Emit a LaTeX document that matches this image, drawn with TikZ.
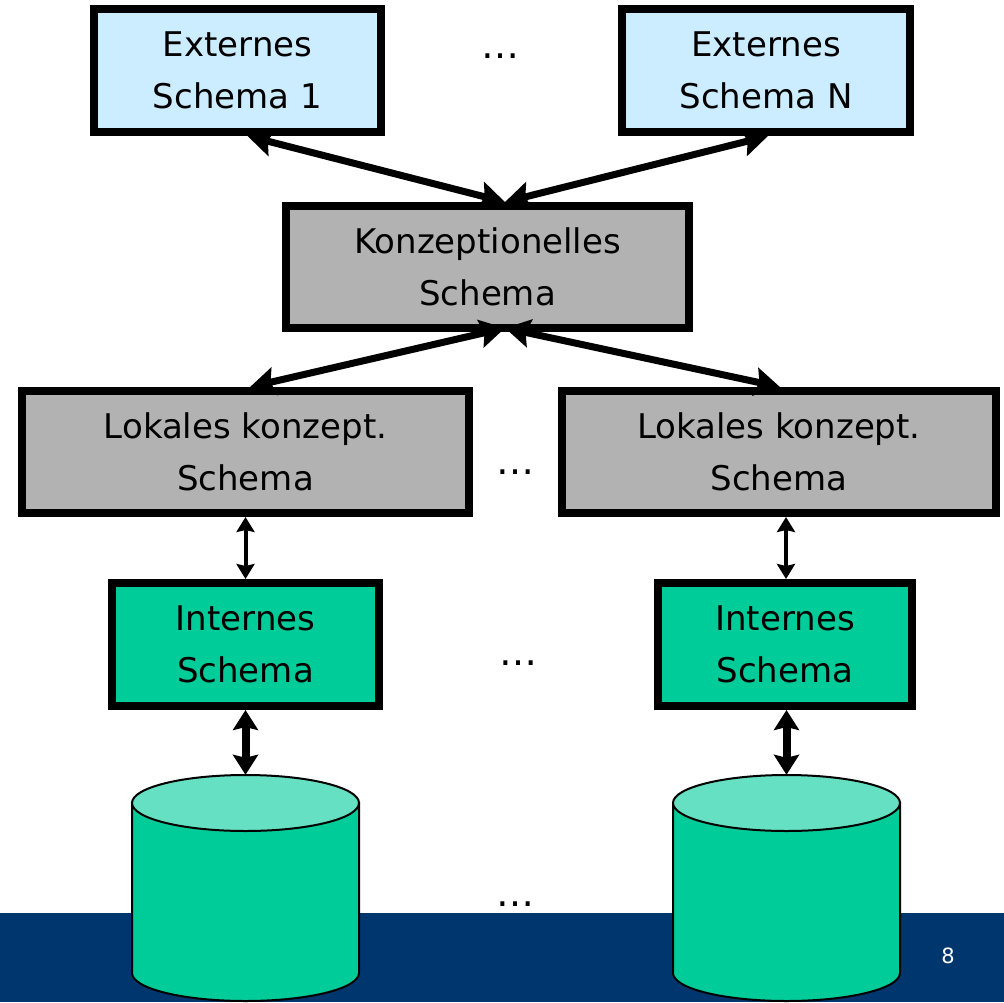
\documentclass[tikz,border=0pt]{standalone}
\usepackage{fontspec}
\setmainfont{DejaVu Sans}
\usetikzlibrary{arrows.meta}
\definecolor{extblue}{HTML}{CCECFF}
\definecolor{konzgray}{HTML}{B2B2B2}
\definecolor{intgreen}{HTML}{00CC99}
\definecolor{dbtop}{HTML}{66E0C2}
\definecolor{barblue}{HTML}{00366E}
\begin{document}
\begin{tikzpicture}[x=1pt,y=-1pt,
  schemabox/.style={draw=black, line width=8pt, inner sep=0pt, align=center,
    font=\fontsize{34}{52}\selectfont},
  bigarr/.style={line width=7pt,
    {Stealth[length=25pt,width=28pt,inset=4pt]}-{Stealth[length=25pt,width=28pt,inset=4pt]}},
  thinarr/.style={line width=4pt,
    {Stealth[length=15pt,width=18pt,inset=2pt]}-{Stealth[length=15pt,width=18pt,inset=2pt]}},
  thickarr/.style={line width=8pt,
    {Stealth[length=20pt,width=25pt,inset=3pt]}-{Stealth[length=20pt,width=25pt,inset=3pt]}},
  dotsnode/.style={font=\fontsize{38}{52}\selectfont, anchor=base, inner sep=0pt},
  db/.style={draw=black, line width=2pt}
]
\useasboundingbox (0,0) rectangle (1004,1002);

% footer bar
\fill[barblue] (0,913) rectangle (1004,1002);
\node[text=white, font=\fontsize{21}{25}\selectfont, inner sep=0pt] (page) at (948,956) {8};

% schema boxes
\node[schemabox, fill=extblue, minimum width=287pt, minimum height=123pt] (ext1) at (237.5,70.5) {Externes\\Schema 1};
\node[schemabox, fill=extblue, minimum width=288pt, minimum height=123pt] (extn) at (766,70.5) {Externes\\Schema N};
\node[schemabox, fill=konzgray, minimum width=403pt, minimum height=122pt] (konz) at (487.5,267) {Konzeptionelles\\Schema};
\node[schemabox, fill=konzgray, minimum width=447pt, minimum height=122pt] (lokl) at (245.5,452) {Lokales konzept.\\Schema};
\node[schemabox, fill=konzgray, minimum width=434pt, minimum height=122pt] (lokr) at (779,452) {Lokales konzept.\\Schema};
\node[schemabox, fill=intgreen, minimum width=267pt, minimum height=123pt] (intl) at (245.5,644.5) {Internes\\Schema};
\node[schemabox, fill=intgreen, minimum width=254pt, minimum height=123pt] (intr) at (785,644.5) {Internes\\Schema};

% database cylinders
\node[inner sep=0pt, minimum width=227pt, minimum height=226pt] (dbl) at (245.5,888) {};
\node[inner sep=0pt, minimum width=227pt, minimum height=226pt] (dbr) at (786.5,888) {};
\foreach \c in {245.5,786.5}{
  \draw[db, fill=intgreen] (\c-113.5,803) -- (\c-113.5,973)
    arc[start angle=180, end angle=0, x radius=113.5, y radius=28] -- (\c+113.5,803) -- cycle;
  \draw[db, fill=dbtop] (\c,803) ellipse [x radius=113.5, y radius=28];
}

% ellipses between the columns
\node[dotsnode] (d1) at (500,58) {…};
\node[dotsnode] (d2) at (515.7,474) {…};
\node[dotsnode] (d3) at (518,665) {…};
\node[dotsnode] (d4) at (515,906) {…};

% mappings between the levels
\draw[bigarr] ([xshift=10pt]ext1.south) -- ([xshift=17.5pt]konz.north);
\draw[bigarr] ([xshift=2pt]extn.south) -- ([xshift=17.5pt]konz.north);
\draw[bigarr] ([xshift=17.5pt,yshift=4pt]konz.south) -- ([xshift=4.5pt]lokl.north);
\draw[bigarr] ([xshift=17.5pt,yshift=4pt]konz.south) -- ([xshift=1pt]lokr.north);
\draw[thinarr] (lokl.south) -- (intl.north);
\draw[thinarr] ([xshift=7pt]lokr.south) -- ([xshift=1pt]intr.north);
\draw[thickarr] (intl.south) -- (dbl.north);
\draw[thickarr] ([xshift=1.5pt]intr.south) -- (dbr.north);
\end{tikzpicture}
\end{document}
